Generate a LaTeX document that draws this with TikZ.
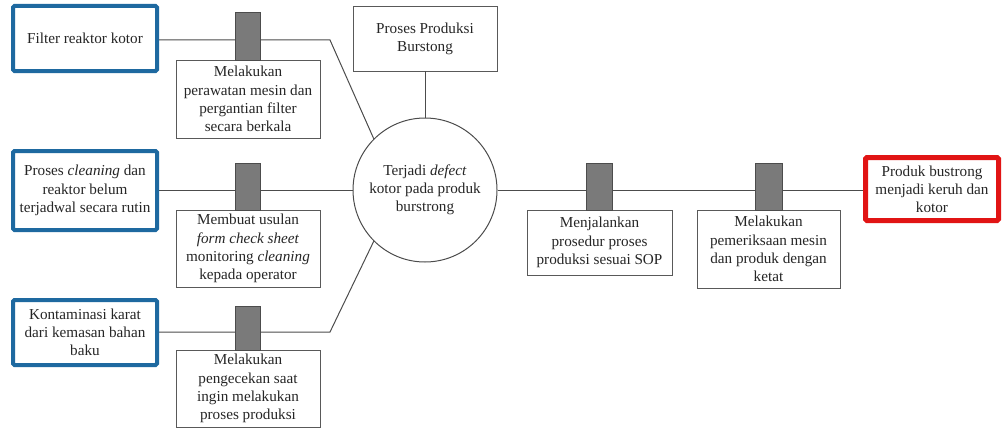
\documentclass[tikz,border=0pt]{standalone}
\usepackage{fontspec}
\setmainfont{Liberation Serif}
\begin{document}
\begin{tikzpicture}[x=1pt,y=-1pt,
  every node/.style={font=\fontsize{15.2}{18.2}\selectfont, text=black!85, align=center, inner sep=1pt},
  causebox/.style={draw={rgb,255:red,30;green,105;blue,160}, line width=4pt, fill=white, rounded corners=1.5pt, minimum width=144pt},
  solbox/.style={draw=black!65, line width=0.9pt, fill=white, minimum width=144pt},
  effbox/.style={draw={rgb,255:red,225;green,20;blue,20}, line width=5pt, fill=white, rounded corners=1.5pt, minimum width=133pt, minimum height=63pt},
  tab/.style={draw=black!70, line width=0.9pt, fill=black!52, minimum width=25pt, inner sep=0pt},
  conn/.style={draw=black!70, line width=1pt}
]
\useasboundingbox (0,0) rectangle (1003,428);

% main circle and top box
\node[circle, draw=black!70, line width=1pt, minimum size=144pt, fill=white] (prob) at (425,190) {Terjadi \textit{defect}\\kotor pada produk\\burstrong};
\node[solbox, minimum height=65pt] (top) at (425,38.5) {Proses Produksi\\Burstong};

% causes
\node[causebox, minimum height=65pt] (c1) at (85,38.5) {Filter reaktor kotor};
\node[causebox, minimum height=79pt] (c2) at (85,190.5) {Proses \textit{cleaning} dan\\reaktor belum\\terjadwal secara rutin};
\node[causebox, minimum height=65pt] (c3) at (85,332.5) {Kontaminasi karat\\dari kemasan bahan\\baku};

% effect
\node[effbox] (eff) at (932,189) {Produk bustrong\\menjadi keruh dan\\kotor};

% connectors
\coordinate (k1) at (330,40);
\coordinate (k3) at (330,332);
\draw[conn] (c1.east |- k1) -- (k1) -- (prob.135);
\draw[conn] (c2.east |- prob.west) -- (prob.west);
\draw[conn] (c3.east |- k3) -- (k3) -- (prob.225);
\draw[conn] (top.south) -- (prob.north);
\draw[conn] (prob.east) -- (eff.west |- prob.east);

% solution boxes
\node[solbox, minimum height=78pt] (s1) at (248,99) {Melakukan\\perawatan mesin dan\\pergantian filter\\secara berkala};
\node[solbox, minimum height=77pt] (s2) at (248,248.5) {Membuat usulan\\\textit{form check sheet}\\monitoring \textit{cleaning}\\kepada operator};
\node[solbox, minimum height=77pt] (s3) at (248,388.5) {Melakukan\\pengecekan saat\\ingin melakukan\\proses produksi};
\node[solbox, minimum width=145pt, minimum height=65pt] (s4) at (599.5,242.5) {Menjalankan\\prosedur proses\\produksi sesuai SOP};
\node[solbox, minimum width=143pt, minimum height=78pt] (s5) at (768.5,249) {Melakukan\\pemeriksaan mesin\\dan produk dengan\\ketat};

% grey tabs
\node[tab, minimum height=48pt] (g1) at (247.5,36) {};
\node[tab, minimum height=47pt] (g2) at (247.5,186.5) {};
\node[tab, minimum height=44pt] (g3) at (247.5,328) {};
\node[tab, minimum width=26pt, minimum height=47pt] (g4) at (599,186.5) {};
\node[tab, minimum width=27pt, minimum height=47pt] (g5) at (768.5,186.5) {};
\end{tikzpicture}
\end{document}
